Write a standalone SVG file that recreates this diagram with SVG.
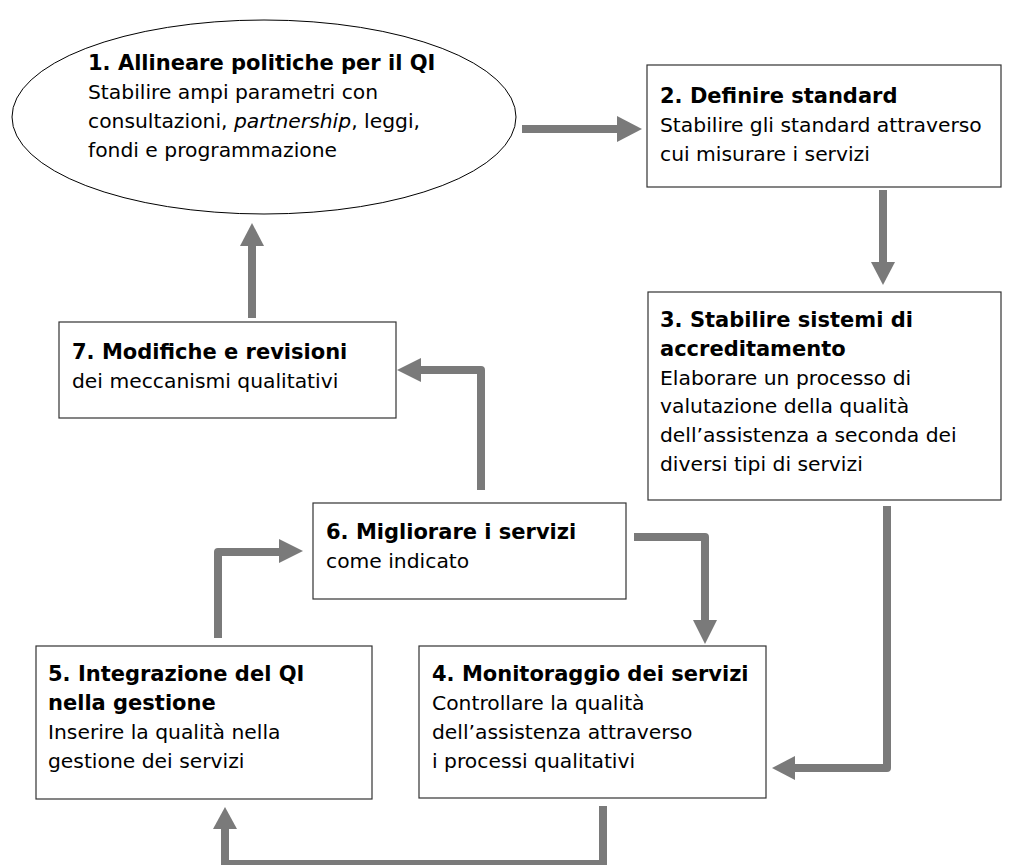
<svg xmlns="http://www.w3.org/2000/svg" width="1010" height="865" viewBox="0 0 1010 865">
<defs>
<style>
.box{fill:#fff;stroke:#333;stroke-width:1.2}
.t{font-family:"DejaVu Sans","Noto Sans",sans-serif;font-size:20.3px;fill:#000}
.b{font-weight:bold;font-size:21px}
.c{fill:none;stroke:#7a7a7a;stroke-width:8;stroke-linejoin:round}
.h{fill:#7a7a7a}
</style>
</defs>
<rect width="1010" height="865" fill="#fff"/>
<g id="connectors">
<path class="c" d="M522,129 H619"/>
<polygon class="h" points="617,116 642,129 617,142"/>
<path class="c" d="M883,190 V264"/>
<polygon class="h" points="871,262 883,285 895,262"/>
<path class="c" d="M887,506 V768 H793"/>
<polygon class="h" points="795,756 772,768 795,780"/>
<path class="c" d="M634,537 H705 V622"/>
<polygon class="h" points="693,620 705,644 717,620"/>
<path class="c" d="M481,490 V370 H419"/>
<polygon class="h" points="421,358 397,370 421,382"/>
<path class="c" d="M252,318 V244"/>
<polygon class="h" points="240,246 252,223 264,246"/>
<path class="c" d="M218,638 V552 H281"/>
<polygon class="h" points="279,539 303,551 279,563"/>
<path class="c" d="M603,806 V864 H225 V827"/>
<polygon class="h" points="213,829 225,807 237,829"/>
</g>
<g id="node1">
<ellipse cx="264" cy="117" rx="252" ry="97" fill="#fff" stroke="#000" stroke-width="1"/>
<text class="t b" x="88" y="70">1. Allineare politiche per il QI</text>
<text class="t" x="88" y="99">Stabilire ampi parametri con</text>
<text class="t" x="88" y="128">consultazioni, <tspan font-style="italic">partnership</tspan>, leggi,</text>
<text class="t" x="88" y="157">fondi e programmazione</text>
</g>
<g id="node2">
<rect class="box" x="647" y="65" width="354" height="122"/>
<text class="t b" x="660" y="103">2. Definire standard</text>
<text class="t" x="660" y="132">Stabilire gli standard attraverso</text>
<text class="t" x="660" y="161">cui misurare i servizi</text>
</g>
<g id="node3">
<rect class="box" x="648" y="292" width="353" height="208"/>
<text class="t b" x="660" y="327">3. Stabilire sistemi di</text>
<text class="t b" x="660" y="356">accreditamento</text>
<text class="t" x="660" y="385">Elaborare un processo di</text>
<text class="t" x="660" y="413">valutazione della qualità</text>
<text class="t" x="660" y="442">dell’assistenza a seconda dei</text>
<text class="t" x="660" y="471">diversi tipi di servizi</text>
</g>
<g id="node7">
<rect class="box" x="59" y="322" width="337" height="96"/>
<text class="t b" x="72" y="359">7. Modifiche e revisioni</text>
<text class="t" x="72" y="388">dei meccanismi qualitativi</text>
</g>
<g id="node6">
<rect class="box" x="313" y="503" width="313" height="96"/>
<text class="t b" x="326" y="539">6. Migliorare i servizi</text>
<text class="t" x="326" y="568">come indicato</text>
</g>
<g id="node5">
<rect class="box" x="36" y="646" width="336" height="153"/>
<text class="t b" x="48" y="681">5. Integrazione del QI</text>
<text class="t b" x="48" y="710">nella gestione</text>
<text class="t" x="48" y="739">Inserire la qualità nella</text>
<text class="t" x="48" y="768">gestione dei servizi</text>
</g>
<g id="node4">
<rect class="box" x="419" y="646" width="347" height="152"/>
<text class="t b" x="432" y="681">4. Monitoraggio dei servizi</text>
<text class="t" x="432" y="710">Controllare la qualità</text>
<text class="t" x="432" y="739">dell’assistenza attraverso</text>
<text class="t" x="432" y="768">i processi qualitativi</text>
</g>
</svg>
